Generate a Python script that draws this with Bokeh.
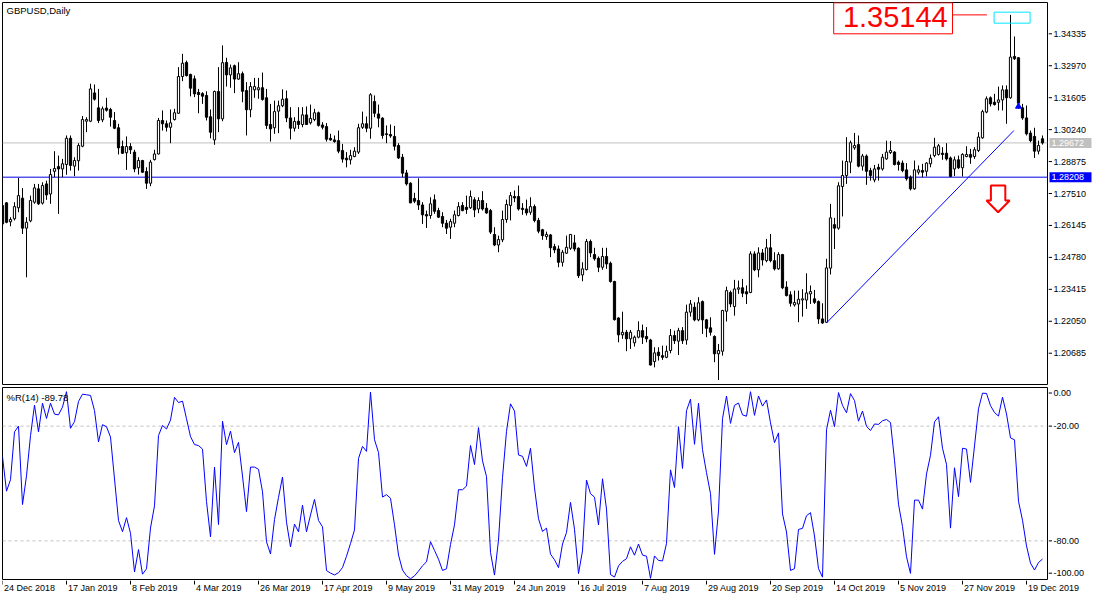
from bokeh.plotting import figure
from bokeh.layouts import column, row
from bokeh.models import Range1d, Span, Label, ColumnDataSource
from bokeh.embed import file_html
from bokeh.resources import INLINE
from bokeh.core.properties import value

# ---------------- data (GBPUSD daily) ----------------
opens = [1.2700,1.2711,1.2630,1.2643,1.2690,1.2731,1.2603,1.2634,1.2714,1.2771,
1.2710,1.2792,1.2749,1.2846,1.2866,1.2856,1.2875,1.2987,1.2868,1.2891,
1.2953,1.3060,1.3060,1.3181,1.3117,1.3066,1.3116,1.3110,1.3063,1.3032,
1.2952,1.2925,1.2952,1.2928,1.2861,1.2892,1.2845,1.2795,1.2896,1.2920,
1.3063,1.3049,1.3034,1.3067,1.3094,1.3251,1.3311,1.3260,1.3241,1.3183,
1.3178,1.3170,1.3079,1.2980,1.3187,1.3070,1.3311,1.3258,1.3297,1.3240,
1.3263,1.3191,1.3109,1.3194,1.3194,1.3203,1.3160,1.3046,1.3032,1.3103,
1.3126,1.3156,1.3074,1.3030,1.3060,1.3046,1.3087,1.3053,1.3067,1.3096,
1.3044,1.3037,1.2987,1.2980,1.2977,1.2935,1.2902,1.2895,1.2909,1.2928,
1.3034,1.3049,1.3030,1.3144,1.3091,1.3073,1.3006,1.3003,1.2995,1.2956,
1.2906,1.2839,1.2795,1.2730,1.2721,1.2702,1.2661,1.2657,1.2724,1.2678,
1.2653,1.2624,1.2607,1.2624,1.2657,1.2700,1.2692,1.2690,1.2724,1.2685,
1.2721,1.2688,1.2678,1.2576,1.2531,1.2553,1.2640,1.2700,1.2738,1.2738,
1.2688,1.2685,1.2671,1.2695,1.2636,1.2596,1.2567,1.2574,1.2524,1.2514,
1.2457,1.2496,1.2517,1.2540,1.2517,1.2403,1.2426,1.2546,1.2490,1.2474,
1.2436,1.2482,1.2453,1.2375,1.2219,1.2147,1.2158,1.2130,1.2113,1.2137,
1.2165,1.2140,1.2125,1.2033,1.2073,1.2058,1.2051,1.2080,1.2144,1.2120,
1.2165,1.2125,1.2244,1.2265,1.2211,1.2289,1.2211,1.2177,1.2140,1.2066,
1.2077,1.2248,1.2328,1.2268,1.2342,1.2348,1.2331,1.2328,1.2493,1.2425,
1.2497,1.2464,1.2519,1.2464,1.2429,1.2490,1.2351,1.2318,1.2275,1.2279,
1.2296,1.2296,1.2322,1.2301,1.2289,1.2215,1.2201,1.2432,1.2618,1.2603,
1.2781,1.2828,1.2885,1.2946,1.2960,1.2868,1.2911,1.2849,1.2809,1.2863,
1.2856,1.2899,1.2926,1.2928,1.2885,1.2881,1.2852,1.2821,1.2771,1.2842,
1.2849,1.2846,1.2878,1.2913,1.2918,1.2923,1.2923,1.2903,1.2856,1.2895,
1.2861,1.2909,1.2918,1.2909,1.2935,1.2989,1.3099,1.3160,1.3141,1.3141,
1.3151,1.3194,1.3160,1.3337,1.3331,1.3117,1.3074,1.3009,1.2995,1.2932,
1.2985]

highs = [1.2710,1.2714,1.2650,1.2714,1.2818,1.2774,1.2650,1.2742,1.2792,1.2792,
1.2799,1.2806,1.2856,1.2932,1.2913,1.2899,1.2999,1.2999,1.2906,1.2966,
1.3082,1.3077,1.3220,1.3217,1.3198,1.3123,1.3160,1.3117,1.3099,1.3049,
1.2977,1.2995,1.2966,1.2938,1.2906,1.2895,1.2863,1.2895,1.2938,1.3074,
1.3106,1.3063,1.3110,1.3113,1.3291,1.3348,1.3319,1.3263,1.3255,1.3198,
1.3184,1.3188,1.3110,1.3191,1.3291,1.3384,1.3331,1.3302,1.3302,1.3312,
1.3272,1.3227,1.3227,1.3245,1.3245,1.3268,1.3198,1.3134,1.3148,1.3148,
1.3196,1.3191,1.3120,1.3077,1.3120,1.3120,1.3123,1.3131,1.3113,1.3101,
1.3056,1.3052,1.3006,1.2999,1.3020,1.2963,1.2928,1.2938,1.2949,1.3049,
1.3101,1.3080,1.3180,1.3170,1.3131,1.3077,1.3042,1.3046,1.3040,1.2966,
1.2920,1.2852,1.2799,1.2754,1.2816,1.2714,1.2678,1.2735,1.2747,1.2690,
1.2671,1.2638,1.2643,1.2678,1.2714,1.2714,1.2742,1.2764,1.2735,1.2735,
1.2761,1.2710,1.2685,1.2607,1.2571,1.2678,1.2725,1.2757,1.2764,1.2785,
1.2710,1.2725,1.2735,1.2704,1.2647,1.2600,1.2588,1.2578,1.2536,1.2529,
1.2510,1.2571,1.2578,1.2574,1.2521,1.2457,1.2557,1.2554,1.2519,1.2482,
1.2519,1.2519,1.2460,1.2378,1.2222,1.2246,1.2168,1.2168,1.2144,1.2205,
1.2191,1.2180,1.2130,1.2094,1.2094,1.2101,1.2101,1.2172,1.2165,1.2177,
1.2180,1.2276,1.2296,1.2286,1.2308,1.2294,1.2215,1.2222,1.2145,1.2108,
1.2254,1.2353,1.2336,1.2382,1.2379,1.2386,1.2358,1.2504,1.2504,1.2521,
1.2514,1.2557,1.2578,1.2500,1.2500,1.2493,1.2376,1.2333,1.2336,1.2336,
1.2342,1.2410,1.2358,1.2339,1.2294,1.2282,1.2472,1.2707,1.2647,1.2799,
1.2892,1.2992,1.2977,1.3010,1.2999,1.2920,1.2918,1.2861,1.2873,1.2878,
1.2920,1.2977,1.2975,1.2932,1.2892,1.2892,1.2881,1.2828,1.2892,1.2871,
1.2878,1.2885,1.2918,1.2989,1.2963,1.2949,1.2966,1.2909,1.2909,1.2913,
1.2923,1.2953,1.2942,1.2949,1.3013,1.3109,1.3166,1.3166,1.3177,1.3208,
1.3213,1.3213,1.35144,1.3422,1.3334,1.3134,1.3127,1.3020,1.3032,1.2977,
1.2999]

lows = [1.2614,1.2624,1.2611,1.2636,1.2671,1.2578,1.2393,1.2628,1.2707,1.2702,
1.2704,1.2724,1.2707,1.2821,1.2664,1.2821,1.2831,1.2849,1.2825,1.2849,
1.2949,1.3013,1.3056,1.3148,1.3052,1.3056,1.3101,1.3037,1.3026,1.2918,
1.2920,1.2852,1.2920,1.2842,1.2832,1.2839,1.2771,1.2782,1.2892,1.2918,
1.3020,1.3016,1.2966,1.3063,1.3091,1.3231,1.3251,1.3166,1.3163,1.3094,
1.3134,1.3063,1.2987,1.2959,1.3013,1.3060,1.3208,1.3203,1.3180,1.3237,
1.3141,1.2999,1.3077,1.3160,1.3156,1.3148,1.3027,1.2973,1.3006,1.3009,
1.3120,1.3056,1.2982,1.3016,1.3027,1.3034,1.3046,1.3046,1.3060,1.3037,
1.3025,1.2973,1.2977,1.2968,1.2923,1.2883,1.2863,1.2875,1.2906,1.2920,
1.3027,1.3013,1.2985,1.3077,1.3034,1.2985,1.2966,1.2989,1.2935,1.2899,
1.2821,1.2785,1.2710,1.2710,1.2681,1.2621,1.2604,1.2643,1.2664,1.2647,
1.2607,1.2578,1.2557,1.2607,1.2653,1.2675,1.2664,1.2685,1.2650,1.2667,
1.2678,1.2664,1.2578,1.2526,1.2500,1.2543,1.2626,1.2636,1.2714,1.2678,
1.2660,1.2657,1.2660,1.2628,1.2581,1.2553,1.2553,1.2479,1.2496,1.2436,
1.2439,1.2493,1.2510,1.2504,1.2390,1.2376,1.2422,1.2479,1.2464,1.2415,
1.2425,1.2429,1.2370,1.2208,1.2115,1.2130,1.2077,1.2087,1.2097,1.2132,
1.2108,1.2115,1.2016,1.2008,1.2037,1.2040,1.2047,1.2068,1.2108,1.2061,
1.2108,1.2105,1.2225,1.2205,1.2205,1.2151,1.2137,1.2144,1.2030,1.1954,
1.2058,1.2204,1.2265,1.2229,1.2322,1.2308,1.2279,1.2325,1.2419,1.2393,
1.2443,1.2457,1.2457,1.2422,1.2425,1.2342,1.2311,1.2268,1.2268,1.2201,
1.2225,1.2258,1.2279,1.2279,1.2194,1.2194,1.2198,1.2405,1.2514,1.2596,
1.2653,1.2792,1.2838,1.2938,1.2863,1.2849,1.2788,1.2806,1.2799,1.2806,
1.2849,1.2895,1.2920,1.2871,1.2849,1.2842,1.2806,1.2764,1.2767,1.2832,
1.2821,1.2824,1.2863,1.2906,1.2913,1.2895,1.2892,1.2821,1.2826,1.2856,
1.2824,1.2906,1.2878,1.2899,1.2928,1.2985,1.3094,1.3123,1.3127,1.3106,
1.3106,1.3049,1.3156,1.3322,1.3113,1.3066,1.2999,1.2970,1.2903,1.2918,
1.2960]

closes = [1.2621,1.2628,1.2640,1.2695,1.2742,1.2603,1.2628,1.2721,1.2775,1.2707,
1.2785,1.2745,1.2832,1.2858,1.2856,1.2878,1.2987,1.2871,1.2892,1.2956,
1.3067,1.3067,1.3198,1.3154,1.3063,1.3113,1.3107,1.3077,1.3030,1.2946,
1.2923,1.2952,1.2938,1.2856,1.2892,1.2842,1.2795,1.2885,1.2920,1.3063,
1.3049,1.3034,1.3053,1.3096,1.3251,1.3308,1.3255,1.3201,1.3177,1.3174,
1.3167,1.3077,1.3013,1.3187,1.3070,1.3310,1.3258,1.3288,1.3240,1.3263,
1.3188,1.3109,1.3208,1.3208,1.3203,1.3153,1.3042,1.3027,1.3101,1.3126,
1.3154,1.3074,1.3030,1.3059,1.3046,1.3087,1.3046,1.3072,1.3096,1.3042,
1.3034,1.2983,1.2980,1.2973,1.2932,1.2898,1.2895,1.2913,1.2932,1.3032,
1.3049,1.3030,1.3173,1.3094,1.3073,1.2999,1.3003,1.2997,1.2953,1.2903,
1.2838,1.2792,1.2711,1.2718,1.2702,1.2660,1.2655,1.2707,1.2675,1.2650,
1.2624,1.2603,1.2631,1.2660,1.2695,1.2678,1.2683,1.2738,1.2681,1.2721,
1.2685,1.2668,1.2586,1.2531,1.2554,1.2640,1.2704,1.2742,1.2732,1.2685,
1.2683,1.2668,1.2695,1.2636,1.2590,1.2571,1.2576,1.2519,1.2510,1.2457,
1.2500,1.2521,1.2576,1.2514,1.2400,1.2429,1.2546,1.2497,1.2472,1.2436,
1.2482,1.2450,1.2375,1.2212,1.2147,1.2158,1.2130,1.2158,1.2137,1.2165,
1.2137,1.2130,1.2018,1.2070,1.2058,1.2051,1.2077,1.2144,1.2122,1.2165,
1.2122,1.2244,1.2279,1.2211,1.2284,1.2211,1.2175,1.2158,1.2066,1.2080,
1.2251,1.2336,1.2279,1.2343,1.2348,1.2325,1.2322,1.2493,1.2425,1.2497,
1.2467,1.2519,1.2464,1.2429,1.2490,1.2348,1.2315,1.2282,1.2285,1.2299,
1.2301,1.2326,1.2332,1.2286,1.2215,1.2198,1.2433,1.2647,1.2603,1.2784,
1.2828,1.2888,1.2968,1.2956,1.2868,1.2911,1.2846,1.2828,1.2856,1.2855,
1.2906,1.2928,1.2935,1.2875,1.2875,1.2849,1.2814,1.2771,1.2852,1.2852,
1.2842,1.2881,1.2902,1.2949,1.2955,1.2918,1.2899,1.2824,1.2895,1.2861,
1.2918,1.2918,1.2906,1.2938,1.2992,1.3101,1.3156,1.3134,1.3131,1.3151,
1.3194,1.3160,1.3334,1.3327,1.3137,1.3074,1.3006,1.2977,1.2932,1.2956,
1.29672]

# %R values of the first 13 bars (their 14-bar window starts before the chart)
wpr_head = [-36, -54, -48, -23, -20, -61, -46, -25, -9, -23, -8, -16, -8]

price_ticks = [1.20685, 1.22050, 1.23415, 1.24780, 1.26145, 1.27510,
               1.28875, 1.30240, 1.31605, 1.32970, 1.34335]
price_tick_labels = ["1.20685", "1.22050", "1.23415", "1.24780", "1.26145", "1.27510",
                     "1.28875", "1.30240", "1.31605", "1.32970", "1.34335"]
date_ticks = [0, 16, 32, 48, 64, 80, 96, 112, 128, 144, 160, 176, 192, 208, 224, 240, 256]
date_labels = ["24 Dec 2018", "17 Jan 2019", "8 Feb 2019", "4 Mar 2019", "26 Mar 2019",
               "17 Apr 2019", "9 May 2019", "31 May 2019", "24 Jun 2019", "16 Jul 2019",
               "7 Aug 2019", "29 Aug 2019", "20 Sep 2019", "14 Oct 2019", "5 Nov 2019",
               "27 Nov 2019", "19 Dec 2019"]
wpr_ticks = [-96.9, -80.0, -20.0, -2.7]
wpr_tick_labels = ["-100.00", "-80.00", "-20.00", "0.00"]

bid_price = 1.29672
bid_label = "1.29672"
level_price = 1.28208
level_label = "1.28208"
high_price = 1.35144
high_label = "1.35144"
wpr_label = "%R(14) -89.78"
title = "GBPUSD,Daily"
trend_x = [206, 252.85]
trend_y = [1.2198, 1.3020]
# annotation anchors (bar index / price)
hi_box = dict(left=207.8, right=237.5, top=1.3566, bottom=1.34335)
hi_text_x, hi_text_y = 210.1, 1.3507
hi_line_x = [237.5, 246.1]
cyan_box = dict(left=247.9, right=256.9, top=1.3526, bottom=1.3479)
arrow_cx, arrow_top, arrow_neck, arrow_tip = 248.9, 1.2785, 1.2721, 1.2671
arrow_stem_hw, arrow_head_hw = 1.8, 2.9
order_mark = (254, 1.3123)

FONT = "Liberation Sans"

# ---------------- layout sizes (px) ----------------
W_MAIN, W_SCALE = 1048, 52
H_MAIN, H_IND, H_DATE = 385, 195, 20
X_END = 261.25
FRAME_W = W_MAIN - 3

# ---------------- derived ----------------
n = len(closes)
idx = list(range(n))
wpr = []
for k in range(n):
    if k < 13:
        wpr.append(wpr_head[k])
    else:
        hh = max(highs[k - 13:k + 1])
        ll = min(lows[k - 13:k + 1])
        wpr.append(-100.0 * (hh - closes[k]) / (hh - ll))

src = ColumnDataSource(dict(
    x=idx, h=highs, l=lows,
    top=[max(o, c) for o, c in zip(opens, closes)],
    bottom=[min(o, c) for o, c in zip(opens, closes)],
    fill=["white" if c >= o else "black" for o, c in zip(opens, closes)],
))

x_range = Range1d(0, X_END)
y_main = Range1d(1.19348, 1.35673)
y_ind = Range1d(-100.2, 0.2)


def pane(width, height, xr, yr, top, bottom, left, right):
    f = figure(width=width, height=height, x_range=xr, y_range=yr,
               output_backend="svg", toolbar_location=None, x_axis_location=None,
               y_axis_location=None, min_border_left=left, min_border_right=right,
               min_border_top=top, min_border_bottom=bottom)
    f.grid.visible = False
    f.background_fill_color = "white"
    f.border_fill_color = "white"
    f.outline_line_color = None
    return f


def txt(f, x, y, texts, size="9px", color="black", align="left", baseline="middle",
        x_offset=0):
    f.text(x=x, y=y, text=texts, text_font=value(FONT), text_font_size=value(size),
           text_color=color, text_align=align, text_baseline=baseline, x_offset=x_offset)


# ---------------- main price pane ----------------
p1 = pane(W_MAIN, H_MAIN, x_range, y_main, 2, 1, 2, 1)
p1.outline_line_color = "black"

p1.add_layout(Span(location=bid_price, dimension="width", line_color="#C0C0C0",
                   line_width=1, level="underlay"))
p1.add_layout(Span(location=level_price, dimension="width", line_color="#0000E6",
                   line_width=1, level="underlay"))

p1.segment(x0="x", y0="l", x1="x", y1="h", source=src, line_color="black", line_width=1)
p1.vbar(x="x", width=0.55, top="top", bottom="bottom", fill_color="fill",
        line_color="black", line_width=1, source=src)

p1.line(trend_x, trend_y, line_color="#0000FF", line_width=1)

p1.quad(left=[hi_box["left"]], right=[hi_box["right"]], top=[hi_box["top"]],
        bottom=[hi_box["bottom"]], fill_color="white", line_color="#FF0000", line_width=1)
txt(p1, [hi_text_x], [hi_text_y], [high_label], size="29px", color="#FF0000")
p1.line(hi_line_x, [high_price, high_price], line_color="#FF0000", line_width=1)
p1.quad(left=[cyan_box["left"]], right=[cyan_box["right"]], top=[cyan_box["top"]],
        bottom=[cyan_box["bottom"]], fill_color=None, line_color="#00E5FF", line_width=1)

ax_x = [arrow_cx - arrow_stem_hw, arrow_cx + arrow_stem_hw, arrow_cx + arrow_stem_hw,
        arrow_cx + arrow_head_hw, arrow_cx, arrow_cx - arrow_head_hw, arrow_cx - arrow_stem_hw]
ax_y = [arrow_top, arrow_top, arrow_neck, arrow_neck, arrow_tip, arrow_neck, arrow_neck]
p1.patch(ax_x, ax_y, fill_color="white", line_color="#FF0000", line_width=2)

p1.scatter([order_mark[0]], [order_mark[1]], marker="triangle", size=6,
           fill_color="#0000FF", line_color="#0000FF")

p1.add_layout(Label(x=1.0, y=1.3557, text=title, text_font=FONT,
                    text_font_size="9.5px", text_color="black", text_baseline="top",
                    text_align="left"))

# price scale (right)
s1 = pane(W_SCALE, H_MAIN, Range1d(0, W_SCALE), y_main, 2, 1, 0, 0)
s1.segment(x0=0, x1=3.5, y0=price_ticks, y1=price_ticks, line_color="black", line_width=1)
txt(s1, [5] * len(price_ticks), price_ticks, price_tick_labels)
s1.rect(x=[22, 22], y=[bid_price, level_price], width=42, height=10,
        width_units="screen", height_units="screen",
        fill_color=["#C0C0C0", "#0000FF"], line_color=None)
txt(s1, [3], [bid_price], [bid_label], color="white")
txt(s1, [3], [level_price], [level_label], color="white")

# ---------------- Williams %R pane ----------------
p2 = pane(W_MAIN, H_IND, x_range, y_ind, 2, 1, 2, 1)
p2.outline_line_color = "black"
for lvl in (-20, -80):
    p2.add_layout(Span(location=lvl, dimension="width", line_color="#C0C0C0",
                       line_dash="3 3", line_width=1, level="underlay"))
p2.line(idx, wpr, line_color="#0000FF", line_width=1)
p2.add_layout(Label(x=1.0, y=-2.0, text=wpr_label, text_font=FONT,
                    text_font_size="9.5px", text_color="black", text_baseline="top",
                    text_align="left"))

s2 = pane(W_SCALE, H_IND, Range1d(0, W_SCALE), y_ind, 2, 1, 0, 0)
s2.segment(x0=0, x1=3.5, y0=wpr_ticks, y1=wpr_ticks, line_color="black", line_width=1)
txt(s2, [5] * len(wpr_ticks), wpr_ticks, wpr_tick_labels)

# ---------------- date scale (bottom) ----------------
x_end_dates = X_END * (W_MAIN + W_SCALE - 2) / FRAME_W
p3 = pane(W_MAIN + W_SCALE, H_DATE, Range1d(0, x_end_dates), Range1d(0, H_DATE), 0, 0, 2, 0)
p3.segment(x0=date_ticks, x1=date_ticks, y0=[H_DATE] * len(date_ticks),
           y1=[H_DATE - 4] * len(date_ticks), line_color="black", line_width=1)
txt(p3, date_ticks, [H_DATE - 2.5] * len(date_ticks), date_labels, baseline="top",
    x_offset=1.5)

layout = column(row(p1, s1), row(p2, s2), p3)
open("out.html", "w").write(file_html(layout, INLINE))
